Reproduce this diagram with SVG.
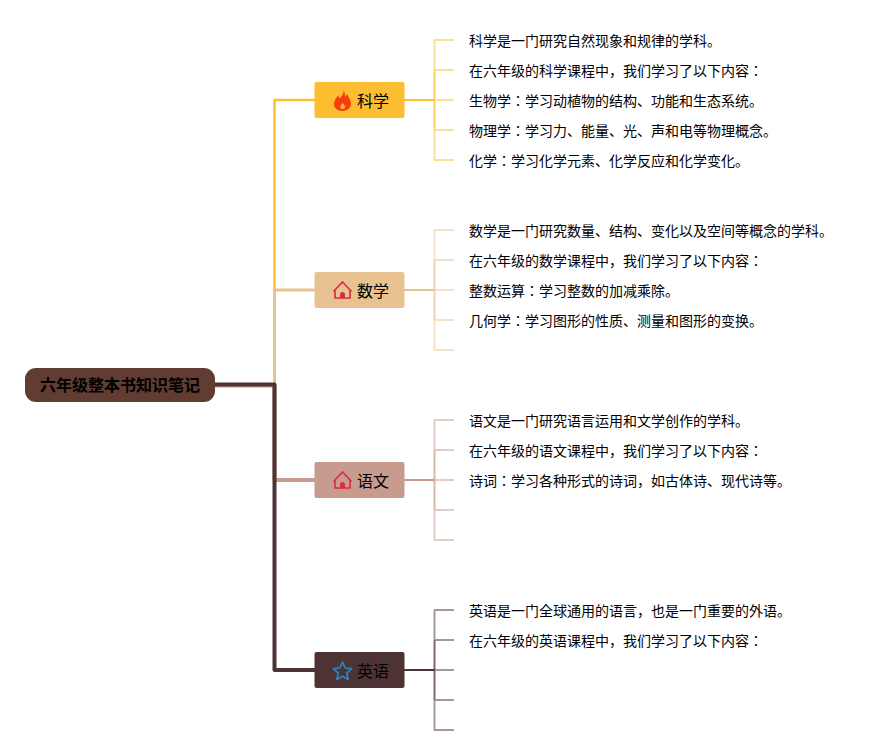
<svg xmlns="http://www.w3.org/2000/svg" width="893" height="755" viewBox="0 0 893 755">
<style>
text{font-family:"Noto Sans CJK JP","Liberation Sans",sans-serif;fill:#000}
.t{font-size:14px}
.n{font-size:16px}
.c{fill:none;stroke-linejoin:round}
.leaf{stroke-width:2;opacity:.5}
.inner{stroke-width:2}
</style>
<rect width="893" height="755" fill="#fff"/>
<g id="connectors">
<path class="c" d="M215 385.500H274.500V100H315" stroke="#fdc033" stroke-width="2.500"/>
<path class="c" d="M215 385.500H274.500V290H315" stroke="#e8c391" stroke-width="3"/>
<path class="c" d="M215 385.500H274.500V480H315" stroke="#c79b8e" stroke-width="4"/>
<path class="c" d="M215 384.500H274.500V670H315" stroke="#4e3334" stroke-width="4"/>
<g stroke="#fdc033">
<path class="c inner" d="M404 100H434.500"/>
<path class="c leaf" d="M454 40H434.500V160H454M434.500 70H454M434.500 100H454M434.500 130H454"/>
<path class="c" stroke-width="1.500" d="M434.500 70V130" opacity=".5"/>
</g>
<g stroke="#e8c391">
<path class="c inner" d="M404 290H434.500"/>
<path class="c leaf" d="M454 230H434.500V350H454M434.500 260H454M434.500 290H454M434.500 320H454"/>
<path class="c" stroke-width="1.500" d="M434.500 260V320" opacity=".5"/>
</g>
<g stroke="#c79b8e">
<path class="c inner" d="M404 480H434.500"/>
<path class="c leaf" d="M454 420H434.500V540H454M434.500 450H454M434.500 480H454M434.500 510H454"/>
<path class="c" stroke-width="1.500" d="M434.500 450V510" opacity=".5"/>
</g>
<g stroke="#4e3334">
<path class="c inner" d="M404 670H434.500"/>
<path class="c leaf" d="M454 610H434.500V730H454M434.500 640H454M434.500 670H454M434.500 700H454"/>
<path class="c" stroke-width="1.500" d="M434.500 640V700" opacity=".5"/>
</g>
</g>
<g id="root">
<rect x="25" y="368" width="190" height="34" rx="11" fill="#603c32"/>
<text x="120" y="391" text-anchor="middle" font-size="16" font-weight="700">六年级整本书知识笔记</text>
</g>
<g id="node-science">
<rect x="314.500" y="82" width="90" height="36" rx="2" fill="#fdbd30"/>
<path fill-rule="evenodd" d="M343.500 89.500c.8 4-1.800 6.200-3.800 9-.9-1-1.100-2-1.200-3.200-2.700 2.500-4.500 5.700-4.500 8.700 0 4.400 3.800 6.900 8.500 6.900s8.500-2.700 8.500-7.100c0-4.700-2.800-6.600-3.900-9.800-.8.900-1.300 1.800-1.900 2.900-.2-2.800-.8-5.300-1.700-6.400zM342.700 103c1 1.500 2.300 2.500 2.300 4 0 1.300-1 2-2.300 2s-2.300-.7-2.300-2c0-1.500 1.300-2.500 2.300-4z" fill="#f5400e"/>
<text class="n" x="357" y="107">科学</text>
</g>
<g id="node-math">
<rect x="314.500" y="272" width="90" height="36" rx="2" fill="#e8c391"/>
<path d="M335 290.500V298H350V290.500M333.500 291.500L342.500 282L351.500 291.500" fill="none" stroke="#dc2d44" stroke-width="1.700"/>
<path d="M340 298v-3.500a2.500 2.500 0 0 1 5 0v3.500z" fill="#dc2d44"/>
<text class="n" x="357" y="297">数学</text>
</g>
<g id="node-chinese">
<rect x="314.500" y="462" width="90" height="36" rx="2" fill="#c79b8e"/>
<path d="M335 480.500V488H350V480.500M333.500 481.500L342.500 472L351.500 481.500" fill="none" stroke="#dc2d44" stroke-width="1.700"/>
<path d="M340 488v-3.500a2.500 2.500 0 0 1 5 0v3.500z" fill="#dc2d44"/>
<text class="n" x="357" y="487">语文</text>
</g>
<g id="node-english">
<rect x="314.500" y="652" width="90" height="36" rx="2" fill="#4e3334"/>
<path d="M342.500 662l2.700 6 6.500.7-4.900 4.300 1.400 6.500-5.700-3.300-5.700 3.300 1.400-6.500-4.900-4.300 6.500-.7z" fill="none" stroke="#2a86c1" stroke-width="1.700" stroke-linejoin="round"/>
<text class="n" x="357" y="677">英语</text>
</g>
<g id="leaves-science">
<text class="t" x="469" y="46">科学是一门研究自然现象和规律的学科。</text>
<text class="t" x="469" y="76">在六年级的科学课程中，我们学习了以下内容：</text>
<text class="t" x="469" y="106">生物学：学习动植物的结构、功能和生态系统。</text>
<text class="t" x="469" y="136">物理学：学习力、能量、光、声和电等物理概念。</text>
<text class="t" x="469" y="166">化学：学习化学元素、化学反应和化学变化。</text>
</g>
<g id="leaves-math">
<text class="t" x="469" y="236">数学是一门研究数量、结构、变化以及空间等概念的学科。</text>
<text class="t" x="469" y="266">在六年级的数学课程中，我们学习了以下内容：</text>
<text class="t" x="469" y="296">整数运算：学习整数的加减乘除。</text>
<text class="t" x="469" y="326">几何学：学习图形的性质、测量和图形的变换。</text>
</g>
<g id="leaves-chinese">
<text class="t" x="469" y="426">语文是一门研究语言运用和文学创作的学科。</text>
<text class="t" x="469" y="456">在六年级的语文课程中，我们学习了以下内容：</text>
<text class="t" x="469" y="486">诗词：学习各种形式的诗词，如古体诗、现代诗等。</text>
</g>
<g id="leaves-english">
<text class="t" x="469" y="616">英语是一门全球通用的语言，也是一门重要的外语。</text>
<text class="t" x="469" y="646">在六年级的英语课程中，我们学习了以下内容：</text>
</g>
</svg>
